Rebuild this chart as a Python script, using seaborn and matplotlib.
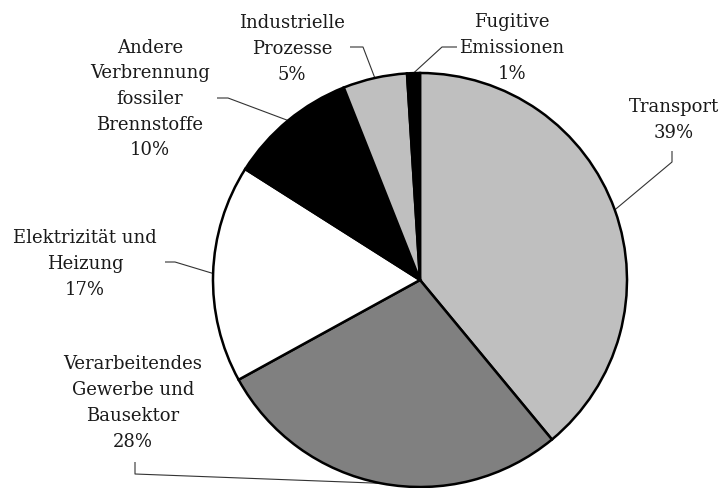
import matplotlib
matplotlib.use("Agg")
import matplotlib.pyplot as plt
import numpy as np
import seaborn as sns

# data
sectors = [
    "Transport",
    "Verarbeitendes\nGewerbe und\nBausektor",
    "Elektrizität und\nHeizung",
    "Andere\nVerbrennung\nfossiler\nBrennstoffe",
    "Industrielle\nProzesse",
    "Fugitive\nEmissionen",
]
shares = [39, 28, 17, 10, 5, 1]
fills = ["#bfbfbf", "#808080", "#ffffff", "#000000", "#bfbfbf", "#000000"]

# layout (pixel positions in the 720x489 image, y from top)
CX, CY, R = 420, 281, 207
label_pos = [(674, 120), (133, 403), (85, 264), (150, 99), (292, 49), (512, 48)]
leader_start = [(672, 152), (135, 463), (165, 263), (217, 99), (350, 48), (457, 48)]
leader_elbow = [(672, 163), (135, 475), (175, 263), (228, 99), (363, 48), (442, 48)]


def px(p):
    return ((p[0] - CX) / R, (CY - p[1]) / R)


sns.set_theme(style="white")
plt.rcParams["font.family"] = ["DejaVu Serif", "DejaVu Sans"]

fig = plt.figure(figsize=(7.2, 4.89), dpi=100)
ax = fig.add_axes([0, 0, 1, 1])

wedges, _ = ax.pie(
    shares,
    colors=fills,
    startangle=90,
    counterclock=False,
    radius=1.0,
    wedgeprops={"edgecolor": "black", "linewidth": 1.8},
)
ax.set_xlim(-CX / R, (720 - CX) / R)
ax.set_ylim((CY - 489) / R, CY / R)
ax.set_aspect("equal")
ax.axis("off")

for w, name, val, lp, ls, le in zip(wedges, sectors, shares, label_pos, leader_start, leader_elbow):
    mid = np.deg2rad((w.theta1 + w.theta2) / 2)
    tip = (np.cos(mid), np.sin(mid))
    a, b = px(ls), px(le)
    ax.plot([a[0], b[0], tip[0]], [a[1], b[1], tip[1]], color="#333333", lw=0.8,
            solid_capstyle="butt", zorder=0)
    tx, ty = px(lp)
    ax.text(tx, ty, f"{name}\n{val}%", ha="center", va="center", fontsize=13,
            color="#1a1a1a", linespacing=1.55)

fig.savefig("out.png", dpi=100)
plt.close(fig)
